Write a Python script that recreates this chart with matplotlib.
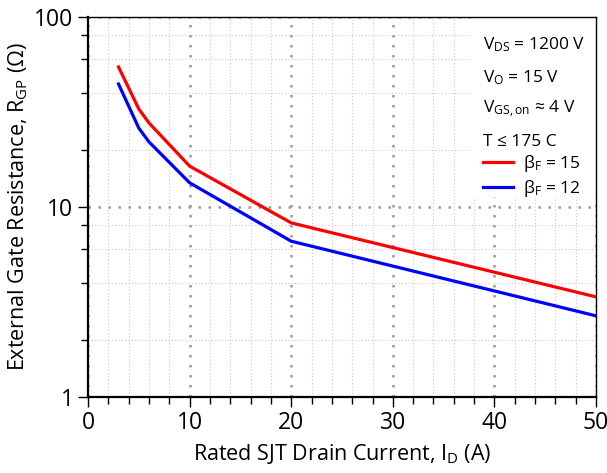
import matplotlib
matplotlib.use("Agg")
import matplotlib.pyplot as plt
from matplotlib.ticker import LogLocator, MultipleLocator, FixedLocator
from matplotlib.patches import Rectangle

plt.rcParams['font.family'] = ['Open Sans', 'DejaVu Sans']
plt.rcParams['mathtext.fontset'] = 'custom'
plt.rcParams['mathtext.rm'] = 'Open Sans'
plt.rcParams['mathtext.it'] = 'Open Sans'

# rated drain current (A) and external gate resistance (ohm)
current = [3, 5, 6, 10, 20, 50]
rgp_beta15 = [54.6, 32.8, 27.7, 16.4, 8.24, 3.36]
rgp_beta12 = [44.4, 26.0, 22.0, 13.4, 6.6, 2.67]

conditions = [r'V$_\mathregular{DS}$ = 1200 V',
              r'V$_\mathregular{O}$ = 15 V',
              r'V$_\mathregular{GS,on}$ ≈ 4 V',
              'T ≤ 175 C']
labels = [r'β$_\mathregular{F}$ = 15', r'β$_\mathregular{F}$ = 12']

fig = plt.figure(figsize=(6.07, 4.73), dpi=100)
ax = fig.add_axes([0.145, 0.161, 0.837, 0.803])

ax.plot(current, rgp_beta15, color='#ff0000', lw=2.3, label=labels[0], zorder=4)
ax.plot(current, rgp_beta12, color='#0000ff', lw=2.3, label=labels[1], zorder=4)

ax.set_yscale('log')
ax.set_xlim(0, 50)
ax.set_ylim(1, 100)
ax.xaxis.set_major_locator(MultipleLocator(10))
ax.xaxis.set_minor_locator(MultipleLocator(2))
ax.yaxis.set_major_locator(FixedLocator([1, 10, 100]))
ax.yaxis.set_major_formatter(plt.FuncFormatter(lambda v, p: '%d' % v))
ax.yaxis.set_minor_locator(LogLocator(base=10, subs=(2, 4, 6, 8)))
ax.yaxis.set_minor_formatter(plt.NullFormatter())

ax.set_axisbelow(True)
ax.grid(which='major', color='#999999', ls=(0, (1, 3)), lw=1.8)
ax.grid(which='minor', color='#c8c8c8', ls=(0, (1, 2)), lw=0.8)

ax.tick_params(which='major', direction='out', length=7, width=1, labelsize=16.5, colors='black')
ax.tick_params(which='minor', direction='out', length=5, width=1)
for s in ['left', 'bottom']:
    ax.spines[s].set_linewidth(1.6)
for s in ['top', 'right']:
    ax.spines[s].set_linewidth(1.0)

ax.set_xlabel(r'Rated SJT Drain Current, I$_\mathregular{D}$ (A)', fontsize=15.5, labelpad=5)
ax.set_ylabel(r'External Gate Resistance, R$_\mathregular{GP}$ ($\mathregular{Ω}$)', fontsize=15.5, labelpad=3)

# white box behind the annotation block
ax.add_patch(Rectangle((0.756, 0.526), 0.244, 0.474, transform=ax.transAxes,
                       facecolor='white', edgecolor='none', zorder=2))
for i, txt in enumerate(conditions):
    ax.text(0.778, 0.926 - i * 0.085, txt, transform=ax.transAxes, fontsize=12.5,
            va='center', ha='left', zorder=3)

ax.legend(loc='upper left', bbox_to_anchor=(0.764, 0.66), frameon=False, fontsize=12.5,
          handlelength=1.75, handletextpad=0.55, labelspacing=0.25, borderaxespad=0)

fig.savefig('out.png', dpi=100)
